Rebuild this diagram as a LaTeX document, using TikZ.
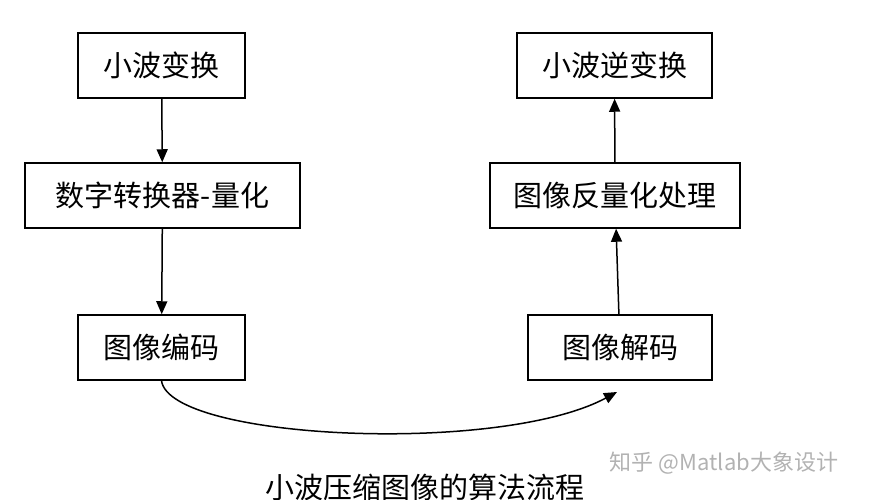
\documentclass[tikz,border=0pt]{standalone}
\usepackage{fontspec}
\newfontfamily\cjk{Noto Sans CJK SC}
\usetikzlibrary{arrows.meta}
\begin{document}
\begin{tikzpicture}[x=1pt,y=-1pt]
 	\tikzset{box/.style={draw=black,line width=1.5pt,font=\cjk\fontsize{29}{31}\selectfont,inner sep=0pt},
 	flow/.style={draw=black,line width=1.5pt,-{Triangle[length=13pt,width=11pt]}}}
 	\useasboundingbox (0,0) rectangle (883,500);
 	\node [box,minimum width=167pt,minimum height=65pt] (wt) at (161.5,65.5) {小波变换};
 	\node [box,minimum width=275pt,minimum height=65pt] (quant) at (162.5,195.5) {数字转换器-量化};
 	\node [box,minimum width=167pt,minimum height=65pt] (enc) at (161.5,347.5) {图像编码};
 	\node [box,minimum width=195pt,minimum height=65pt] (iwt) at (614.5,65.5) {小波逆变换};
 	\node [box,minimum width=250pt,minimum height=65pt] (dequant) at (615,195.5) {图像反量化处理};
 	\node [box,minimum width=184pt,minimum height=65pt] (dec) at (620,347.5) {图像解码};
 	\draw [flow] (wt) -- (quant);
 	\draw [flow] (quant) -- (enc);
 	\draw [flow] (dec) -- (dequant);
 	\draw [flow] (dequant) -- (iwt);
 	\coordinate (tip) at (617,392);
 	\draw [flow] (enc.south) .. controls (170,440) and (500,455) .. (tip);
 	\node [font=\cjk\fontsize{29}{31}\selectfont] (cap) at (425,487) {小波压缩图像的算法流程};
 	\node [font=\cjk\fontsize{22}{24}\selectfont,text=black!30] (mark) at (724,463) {知乎 @Matlab大象设计};
\end{tikzpicture}
\end{document}
